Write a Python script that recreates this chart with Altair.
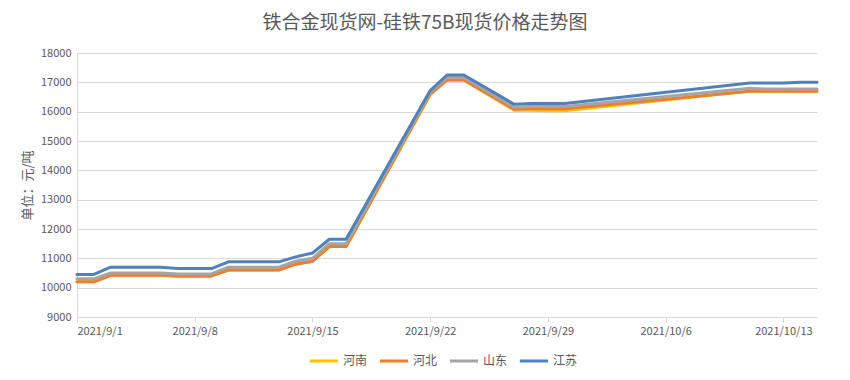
import altair as alt
import pandas as pd

dates = ["2021-09-01", "2021-09-02", "2021-09-03", "2021-09-06", "2021-09-07",
         "2021-09-08", "2021-09-09", "2021-09-10", "2021-09-13", "2021-09-14",
         "2021-09-15", "2021-09-16", "2021-09-17", "2021-09-22", "2021-09-23",
         "2021-09-24", "2021-09-27", "2021-09-28", "2021-09-29", "2021-09-30",
         "2021-10-11", "2021-10-12", "2021-10-13", "2021-10-14", "2021-10-15"]

henan = [10200, 10200, 10420, 10420, 10380, 10380, 10400, 10600, 10600, 10800,
         10900, 11400, 11400, 16580, 17080, 17080, 16050, 16050, 16030, 16030,
         16700, 16700, 16700, 16700, 16700]
hebei = [10200, 10200, 10420, 10420, 10400, 10400, 10400, 10600, 10600, 10800,
         10900, 11400, 11400, 16600, 17080, 17080, 16080, 16100, 16100, 16100,
         16700, 16700, 16700, 16700, 16700]
shandong = [10300, 10300, 10500, 10500, 10470, 10470, 10470, 10700, 10700, 10900,
            11000, 11500, 11500, 16650, 17170, 17170, 16150, 16180, 16180, 16180,
            16800, 16770, 16770, 16770, 16770]
jiangsu = [10450, 10450, 10700, 10700, 10650, 10650, 10650, 10880, 10880, 11050,
           11180, 11650, 11650, 16720, 17250, 17250, 16250, 16280, 16280, 16280,
           16980, 16980, 16980, 17000, 17000]

series_names = ["河南", "河北", "山东", "江苏"]
series_colors = ["#FFC000", "#ED7D31", "#A5A5A5", "#4F81BD"]
series_values = [henan, hebei, shandong, jiangsu]

tick_dates = [(2021, 9, 1), (2021, 9, 8), (2021, 9, 15), (2021, 9, 22),
              (2021, 9, 29), (2021, 10, 6), (2021, 10, 13)]
y_ticks = [9000, 10000, 11000, 12000, 13000, 14000, 15000, 16000, 17000, 18000]

rows = []
for name, vals in zip(series_names, series_values):
    for d, v in zip(dates, vals):
        rows.append({"date": d, "series": name, "price": v})
df = pd.DataFrame(rows)

FONT = "Noto Sans CJK SC"
TXT = "#595959"
GRID = "#D9D9D9"

x_enc = alt.X(
    "date:T",
    scale=alt.Scale(type="utc", domain=[alt.DateTime(year=2021, month=9, date=1, utc=True),
                                        alt.DateTime(year=2021, month=10, date=15, utc=True)]),
    axis=alt.Axis(
        values=[alt.DateTime(year=y, month=m, date=d, utc=True) for (y, m, d) in tick_dates],
        labelExpr="utcFormat(datum.value, '%Y/%-m/%-d')",
        title=None, grid=False, domainColor=GRID, tickColor=GRID, tickSize=5,
        labelFont=FONT, labelFontSize=11, labelColor=TXT, labelPadding=3,
    ),
)
y_enc = alt.Y(
    "price:Q",
    scale=alt.Scale(domain=[9000, 18000], nice=False, zero=False),
    axis=alt.Axis(
        values=y_ticks, format="d", title="单位：元/吨", titleFont=FONT, titleFontSize=13,
        titleColor=TXT, titleFontWeight="normal", titlePadding=6,
        ticks=False, grid=True, gridColor=GRID, domainColor=GRID,
        labelFont=FONT, labelFontSize=11, labelColor=TXT, labelPadding=6,
    ),
)
legend = alt.Legend(
    orient="none", legendX=231, legendY=292, direction="horizontal", title=None,
    symbolType="stroke", symbolSize=800, symbolStrokeWidth=3,
    labelFont=FONT, labelFontSize=12, labelColor=TXT, labelOffset=3,
    columnPadding=5, padding=0,
)
color_enc = alt.Color("series:N",
                      scale=alt.Scale(domain=series_names, range=series_colors),
                      legend=legend)

layers = []
for name in series_names:
    layers.append(
        alt.Chart(df).transform_filter(alt.datum.series == name)
        .mark_line(strokeWidth=3, strokeJoin="round", strokeCap="round")
        .encode(x=x_enc, y=y_enc, color=color_enc)
    )

chart = alt.layer(*layers).properties(
    width=740, height=264,
    autosize="none",
    padding={"left": 69, "top": 45, "right": 25, "bottom": 55},
    title=alt.TitleParams(text="铁合金现货网-硅铁75B现货价格走势图", font=FONT, fontSize=19,
                          fontWeight="normal", color=TXT, anchor="middle", dx=-22, offset=14),
).configure(background="white").configure_view(stroke=None)

chart.save("out.html", embed_options={"renderer": "svg", "actions": False})
